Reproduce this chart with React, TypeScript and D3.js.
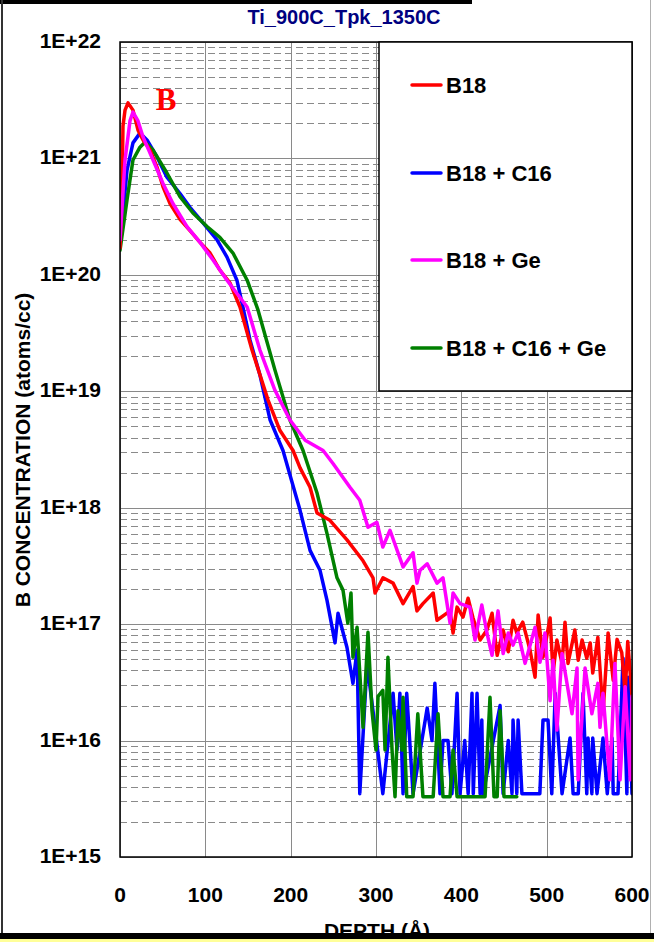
import React from "react";
import * as d3 from "d3";

// SIMS boron depth profiles after Ti 900C / spike 1350C anneal
// Each pair: [depth in Å, B concentration in atoms/cc]
const b18: [number, number][] = [
  [0, 1.7e20], [2.3, 5.0e20], [3.5, 1.9e21], [5.9, 2.6e21], [9.4, 3.0e21], [15.2, 2.6e21],
  [21.1, 1.75e21], [27, 1.44e21], [35.2, 1.18e21], [43.4, 8.4e20], [50.4, 5.7e20], [58.6, 4.1e20],
  [70.3, 3.0e20], [82, 2.4e20], [93.8, 1.9e20], [105.5, 1.54e20], [117, 1.1e20], [129, 8.5e19],
  [140.6, 5.3e19], [154.7, 2.26e19], [173.5, 8.4e18], [187.5, 4.6e18], [202.8, 3.1e18], [211, 2.2e18],
  [222.7, 1.5e18], [230.9, 9.0e17], [246, 7.8e17], [266, 5.3e17], [284.8, 3.5e17], [296.5, 2.5e17],
  [298.9, 1.85e17], [308.2, 2.5e17], [320, 2.25e17], [331.7, 1.5e17], [343.4, 2.1e17], [348, 1.3e17],
  [355, 1.5e17], [367, 1.85e17], [371.5, 1.08e17], [386.8, 1.3e17], [390.3, 8.4e16], [395, 1.4e17],
  [402, 1.15e17], [407.9, 1.67e17], [413.7, 1.13e17], [422, 7.3e16], [430, 8.9e16], [436, 1.24e17],
  [442, 5.4e16], [449, 8.9e16], [455, 5.8e16], [460.6, 1.08e17], [465, 8.4e16], [472, 1.04e17],
  [480.5, 6.0e16], [486.4, 3.5e16], [490, 1.2e17], [495.7, 5.2e16], [504, 1.13e17], [507.5, 3.8e16],
  [512, 7.3e16], [518, 4.6e16], [521.5, 1.04e17], [525, 4.6e16], [533, 8.9e16], [537, 4.9e16],
  [541.5, 7.3e16], [547, 5.1e16], [551, 6.9e16], [554, 3.8e16], [560, 7.7e16], [566, 1.7e16],
  [572, 8.4e16], [578, 3.3e16], [582.5, 7.4e16], [588, 5.7e16], [592, 2.55e16], [595, 7.1e16],
  [600, 2.4e16],
];

const b18C16: [number, number][] = [
  [0, 1.8e20], [8.2, 7.9e20], [15.2, 1.36e21], [23.4, 1.65e21], [31.6, 1.44e21], [43.4, 1.03e21],
  [55, 6.9e20], [70.3, 5.0e20], [82, 3.8e20], [97.3, 2.8e20], [113.7, 2.0e20], [125.4, 1.42e20],
  [137, 9.0e19], [144, 5.3e19], [152.4, 2.75e19], [164, 1.38e19], [175.8, 5.7e18], [191, 3.1e18],
  [211, 9.5e17], [222.7, 4.3e17], [234.4, 2.9e17], [242.6, 1.6e17], [252, 6.9e16], [255.5, 1.24e17],
  [266, 6.3e16], [273, 3.1e16], [277.8, 6.0e16], [281, 3.5e15], [289.5, 4.6e16], [296.5, 1.8e16],
  [308, 3.5e15], [320, 2.55e16], [324.6, 8.3e15], [328, 2.55e16], [331.7, 3.5e15], [336, 2.55e16],
  [343.4, 3.5e15], [360, 1.9e16], [365.6, 1.0e16], [369, 3.1e16], [375, 3.5e15], [378.5, 1.0e16],
  [384.4, 1.0e16], [389, 3.5e15], [395, 2.55e16], [398.5, 3.5e15], [404, 1.0e16], [408, 3.5e15],
  [412.5, 2.55e16], [414, 3.5e15], [418.4, 2.55e16], [422, 3.5e15], [424, 1.5e16], [425.5, 3.5e15],
  [445.4, 2.0e16], [449, 3.5e15], [455, 1.0e16], [459.4, 3.5e15], [460.6, 1.5e16], [465, 3.5e15],
  [466.5, 1.5e16], [471, 3.5e15], [492, 3.5e15], [495.7, 1.5e16], [501.6, 1.5e16], [506, 3.5e15],
  [510, 2.55e16], [518, 3.5e15], [527.4, 1.05e16], [531, 3.5e15], [537, 3.5e15], [542.6, 2.55e16],
  [547, 3.5e15], [548.5, 1.05e16], [553, 3.5e15], [554, 1.05e16], [559, 3.5e15], [566, 1.05e16],
  [571, 3.5e15], [576.6, 1.05e16], [578, 3.5e15], [583.6, 3.5e15], [589.5, 5.1e16], [594, 3.5e15],
  [595.4, 3.5e16], [600, 3.5e15],
];

const b18Ge: [number, number][] = [
  [0, 2.0e20], [5.9, 9.7e20], [11.7, 2.1e21], [15.2, 2.5e21], [21.1, 2.1e21], [27, 1.53e21],
  [38.7, 9.7e20], [50.4, 6.1e20], [62, 4.1e20], [78.5, 2.6e20], [93.8, 1.9e20], [109, 1.34e20],
  [125.4, 9.0e19], [149, 5.3e19], [164, 2.26e19], [181.6, 1.02e19], [199, 5.7e18], [217, 3.8e18],
  [238, 3.1e18], [249.6, 2.4e18], [269.5, 1.5e18], [281, 1.16e18], [290.6, 6.8e17], [301, 7.5e17],
  [308, 4.6e17], [316.4, 6.4e17], [331.7, 3.1e17], [343.4, 4.1e17], [348, 2.25e17], [351.6, 2.9e17],
  [360, 3.3e17], [371.5, 2.25e17], [378.5, 2.5e17], [386.8, 1.02e17], [390.3, 1.85e17], [398.5, 1.5e17],
  [410, 1.4e17], [416, 7.3e16], [424, 1.46e17], [430, 8.4e16], [436, 5.4e16], [443, 1.3e17],
  [449, 5.6e16], [455, 8.4e16], [460.6, 6.6e16], [466.5, 8.4e16], [474.7, 4.6e16], [486.4, 9.4e16],
  [492.2, 4.7e16], [498, 8.4e16], [504, 2.2e16], [507.5, 4.9e16], [512, 1.23e16], [518, 5.6e16],
  [529.7, 1.7e16], [535.6, 4.2e16], [536.8, 4.6e15], [545, 4.2e16], [553, 1.7e16], [560, 3.1e16],
  [562.5, 1.3e16], [566, 2.55e16], [574, 4.6e15], [580, 4.6e16], [586, 4.6e15], [592, 2.9e16],
  [598, 4.6e15], [600, 2.4e16],
];

const b18C16Ge: [number, number][] = [
  [0, 1.63e20], [8.2, 4.4e20], [15.2, 9.7e20], [23.4, 1.25e21], [29.3, 1.38e21], [38.7, 1.18e21],
  [55, 7.5e20], [70.3, 4.7e20], [85.5, 3.4e20], [102, 2.6e20], [117, 2.1e20], [132.4, 1.54e20],
  [149, 9.0e19], [161.7, 5.0e19], [181.6, 1.52e19], [199, 5.7e18], [214.5, 3.1e18], [231, 1.33e18],
  [242.6, 6.0e17], [254.3, 2.5e17], [261.3, 1.96e17], [267, 1.02e17], [270.7, 1.85e17], [273, 5.2e16],
  [277.8, 9.4e16], [284.8, 1.3e16], [290.6, 8.5e16], [295.3, 1.8e16], [300, 8.3e15], [302.4, 2.4e16],
  [308, 2.7e16], [310.6, 8.3e15], [314, 5.2e16], [318.8, 8.3e15], [322.3, 3.3e15], [325.8, 1.8e16],
  [330.5, 8.3e15], [331.7, 2.35e16], [336, 3.3e15], [343.4, 3.3e15], [349, 1.7e16], [355, 3.3e15],
  [367, 3.3e15], [372.7, 1.7e16], [378.5, 3.3e15], [386.8, 3.3e15], [390.3, 8.3e15], [395, 3.3e15],
  [427.8, 3.3e15], [433.6, 2.35e16], [438.3, 3.3e15], [442, 3.3e15], [445.4, 1.8e16], [450, 3.3e15],
  [465, 3.3e15],
];

const seriesNames = ["B18", "B18 + C16", "B18 + Ge", "B18 + C16 + Ge"];
const seriesColors = ["#ff0000", "#0000ff", "#ff00ff", "#008000"];
const seriesData = [b18, b18C16, b18Ge, b18C16Ge];
// drawing order (back to front)
const drawOrder = [1, 3, 0, 2];

const xTicks = [0, 100, 200, 300, 400, 500, 600];
const yDecades = [15, 16, 17, 18, 19, 20, 21, 22];

const W = 654;
const H = 942;
const plot = { left: 120, right: 632, top: 42, bottom: 857 };
const FONT = "'Liberation Sans', Arial, Helvetica, sans-serif";

export default function App() {
  const x = d3.scaleLinear().domain([0, 600]).range([plot.left, plot.right]);
  const y = d3.scaleLog().domain([1e15, 1e22]).range([plot.bottom, plot.top]);
  const line = d3
    .line<[number, number]>()
    .x((d) => x(d[0]))
    .y((d) => y(d[1]))
    .curve(d3.curveLinear);

  const minor: number[] = [];
  for (let e = 15; e < 22; e++) {
    for (let k = 2; k <= 9; k++) minor.push(k * Math.pow(10, e));
  }

  const legendBox = { x: 379, y: 42, w: 253, h: 349 };
  const legendRows = [85, 173, 260, 348];

  return (
    <svg
      width={W}
      height={H}
      viewBox={`0 0 ${W} ${H}`}
      style={{ position: "absolute", left: 0, top: 0, background: "#fff" }}
      fontFamily={FONT}
    >
      <defs>
        <clipPath id="plotClip">
          <rect x={plot.left} y={plot.top} width={plot.right - plot.left} height={plot.bottom - plot.top} />
        </clipPath>
      </defs>
      <rect x={0} y={0} width={W} height={H} fill="#fff" />

      {/* minor horizontal grid */}
      {minor.map((v, i) => (
        <line
          key={"mn" + i}
          x1={plot.left}
          x2={plot.right}
          y1={Math.round(y(v)) + 0.5}
          y2={Math.round(y(v)) + 0.5}
          stroke="#8a8a8a"
          strokeWidth={1}
          strokeDasharray="7 4"
        />
      ))}
      {/* major horizontal grid */}
      {yDecades.map((e) => (
        <line
          key={"mj" + e}
          x1={plot.left}
          x2={plot.right}
          y1={Math.round(y(Math.pow(10, e))) + 0.5}
          y2={Math.round(y(Math.pow(10, e))) + 0.5}
          stroke="#8a8a8a"
          strokeWidth={1}
        />
      ))}
      {/* vertical grid */}
      {xTicks.map((t) => (
        <line
          key={"vx" + t}
          x1={Math.round(x(t)) + 0.5}
          x2={Math.round(x(t)) + 0.5}
          y1={plot.top}
          y2={plot.bottom}
          stroke="#8a8a8a"
          strokeWidth={1}
        />
      ))}

      {/* profiles */}
      <g clipPath="url(#plotClip)">
        {drawOrder.map((i) => (
          <path
            key={"s" + i}
            d={line(seriesData[i]) || ""}
            fill="none"
            stroke={seriesColors[i]}
            strokeWidth={3.5}
            strokeLinejoin="round"
            strokeLinecap="round"
          />
        ))}
      </g>

      {/* plot frame */}
      <rect
        x={plot.left}
        y={plot.top}
        width={plot.right - plot.left}
        height={plot.bottom - plot.top}
        fill="none"
        stroke="#000"
        strokeWidth={1.5}
      />

      {/* legend */}
      <rect
        x={legendBox.x}
        y={legendBox.y}
        width={legendBox.w}
        height={legendBox.h}
        fill="#fff"
        stroke="#000"
        strokeWidth={1.5}
      />
      {seriesNames.map((n, i) => (
        <g key={"lg" + i}>
          <line
            x1={412}
            x2={441}
            y1={legendRows[i]}
            y2={legendRows[i]}
            stroke={seriesColors[i]}
            strokeWidth={3.5}
            strokeLinecap="round"
          />
          <text x={446} y={legendRows[i] + 8} fontSize={22} fontWeight="bold" fill="#000">
            {n}
          </text>
        </g>
      ))}

      {/* element label */}
      <text
        x={166}
        y={110}
        fontSize={31}
        fontWeight="bold"
        fill="#ff0000"
        textAnchor="middle"
        fontFamily="'Liberation Serif', 'Times New Roman', serif"
      >
        B
      </text>

      {/* y tick labels */}
      {yDecades.map((e) => (
        <text
          key={"yl" + e}
          x={101}
          y={y(Math.pow(10, e)) + 6}
          fontSize={21}
          fontWeight="bold"
          textAnchor="end"
          fill="#000"
        >
          {`1E+${e}`}
        </text>
      ))}
      {/* x tick labels */}
      {xTicks.map((t) => (
        <text key={"xl" + t} x={x(t)} y={902} fontSize={21} fontWeight="bold" textAnchor="middle" fill="#000">
          {t}
        </text>
      ))}

      {/* titles */}
      <text x={344} y={24} fontSize={20} fontWeight="bold" textAnchor="middle" fill="#000080">
        Ti_900C_Tpk_1350C
      </text>
      <text
        transform="translate(30,450) rotate(-90)"
        fontSize={21}
        fontWeight="bold"
        textAnchor="middle"
        fill="#000"
      >
        B CONCENTRATION (atoms/cc)
      </text>
      <text x={377} y={938} fontSize={21} fontWeight="bold" textAnchor="middle" fill="#000">
        DEPTH (Å)
      </text>

      {/* slide edges */}
      <rect x={0} y={0} width={472} height={4} fill="#000" />
      <rect x={1} y={0} width={2} height={933} fill="#333" />
      <line x1={650.5} x2={650.5} y1={0} y2={933} stroke="#b0b0b0" strokeWidth={1} />
      <rect x={0} y={933} width={W} height={6} fill="#000" />
      <rect x={0} y={939} width={W} height={3} fill="#ffff99" />
    </svg>
  );
}
